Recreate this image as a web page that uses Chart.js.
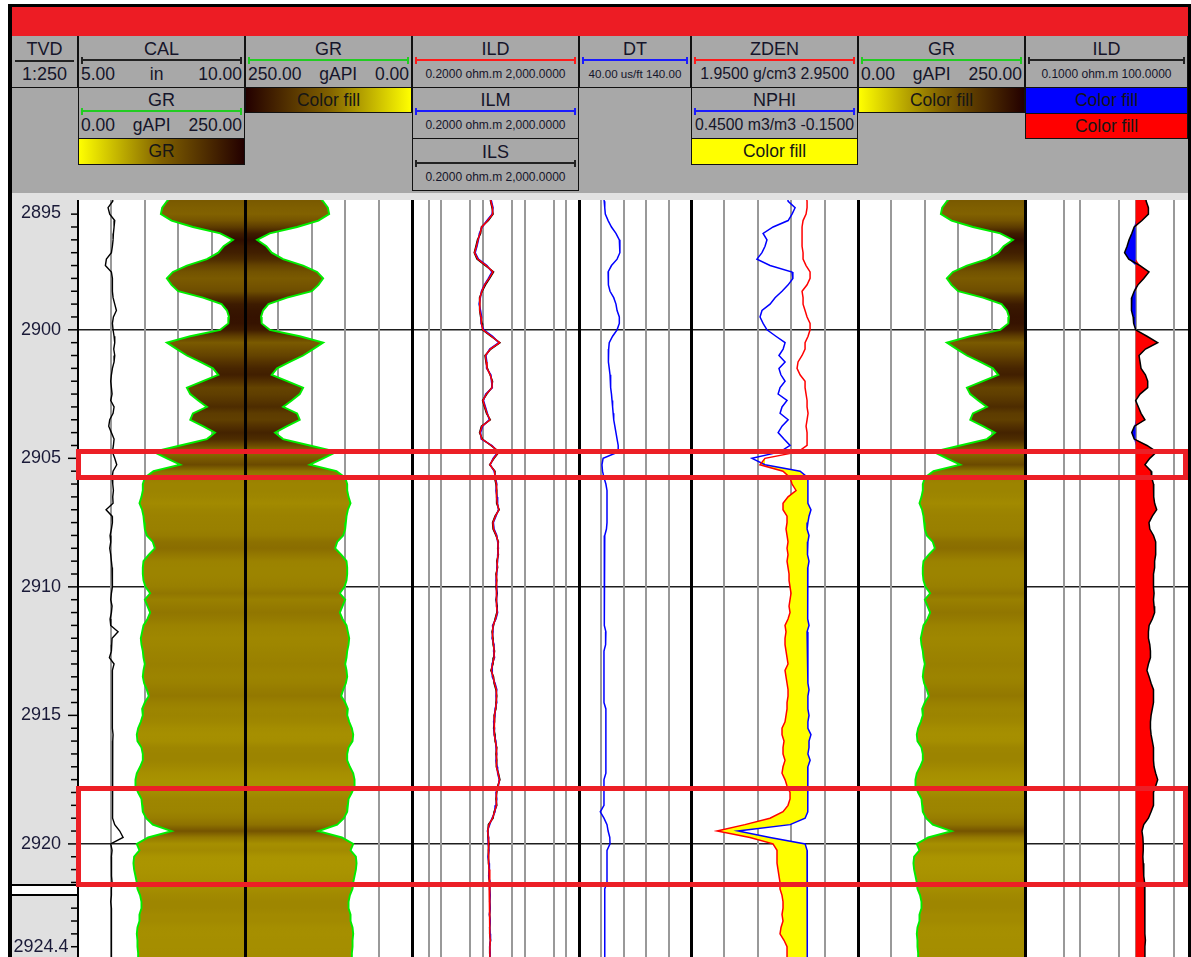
<!DOCTYPE html>
<html>
<head>
<meta charset="utf-8">
<title>Well log – TVD 2895–2924.4</title>
<script src="https://cdn.jsdelivr.net/npm/chart.js@4.4.1/dist/chart.umd.min.js"></script>
<style>
  html, body { margin: 0; padding: 0; background: #fff; }
  #page { position: relative; width: 1191px; height: 957px; overflow: hidden;
          font-family: "Liberation Sans", Arial, sans-serif; color: #15152a; }
  .abs { position: absolute; box-sizing: border-box; }
  .cell { border-left: 1px solid #111; border-right: 1px solid #111; border-bottom: 1px solid #111; }
  .title { position: absolute; left: 0; right: 0; height: 20px; line-height: 20px; text-align: center; font-size: 18px; white-space: nowrap; }
  .bar { position: absolute; left: 2px; right: 2px; height: 7px; box-sizing: border-box; }
  .bar > i { position: absolute; left: 0; right: 0; top: 2px; height: 2px; }
  .vals { position: absolute; left: 0; right: 0; height: 20px; line-height: 20px; display: flex;
          justify-content: space-between; padding: 0 2px; font-size: 17.5px; white-space: nowrap; }
  .vals.center { justify-content: center; }
  .fillbar { border: 1px solid #111; text-align: center; font-size: 17.5px; color: #161616; white-space: nowrap; }
</style>
</head>
<body>
<div id="page"></div>
<script>
// ---------------------------------------------------------------------------
// Log samples (0.25 m step)
// ---------------------------------------------------------------------------
const DEPTH = [
  2894.75,2895,2895.25,2895.5,2895.75,2896,2896.25,2896.5,2896.75,2897,
  2897.25,2897.5,2897.75,2898,2898.25,2898.5,2898.75,2899,2899.25,2899.5,
  2899.75,2900,2900.25,2900.5,2900.75,2901,2901.25,2901.5,2901.75,2902,
  2902.25,2902.5,2902.75,2903,2903.25,2903.5,2903.75,2904,2904.25,2904.5,
  2904.75,2905,2905.25,2905.5,2905.75,2906,2906.25,2906.5,2906.75,2907,
  2907.25,2907.5,2907.75,2908,2908.25,2908.5,2908.75,2909,2909.25,2909.5,
  2909.75,2910,2910.25,2910.5,2910.75,2911,2911.25,2911.5,2911.75,2912,
  2912.25,2912.5,2912.75,2913,2913.25,2913.5,2913.75,2914,2914.25,2914.5,
  2914.75,2915,2915.25,2915.5,2915.75,2916,2916.25,2916.5,2916.75,2917,
  2917.25,2917.5,2917.75,2918,2918.25,2918.5,2918.75,2919,2919.25,2919.5,
  2919.75,2920,2920.25,2920.5,2920.75,2921,2921.25,2921.5,2921.75,2922,
  2922.25,2922.5,2922.75,2923,2923.25,2923.5,2923.75,2924,2924.25,2924.5
];

// Gamma ray, gAPI
const GR = [
  142,133,126,124,140,172,213,232,218,210,
  193,163,142,133,140,150,187,215,223,226,
  225,213,168,133,148,163,183,202,210,187,
  163,168,180,193,172,168,187,205,193,153,
  113,133,153,113,100,97,97,95,92,96,
  98,99,100,103,112,115,106,98,97,97,
  98,101,108,100,104,108,104,98,96,94,
  95,97,98,100,98,97,99,103,106,100,
  96,97,94,90,88,89,95,97,97,93,
  88,86,86,90,95,96,97,102,112,140,
  105,88,92,84,83,84,86,88,89,93,
  95,95,92,92,89,88,89,89,90,90
];

// Caliper, in
const CAL = [
  6.05,6.04,5.9,5.95,6.1,6.08,6.06,6.05,6.03,6.0,
  5.85,5.82,6.0,6.03,6.02,6.04,6.05,6.1,6.15,6.06,
  6.03,6.05,6.08,6.1,6.07,6.1,6.08,6.03,6.0,5.98,
  6.0,6.02,5.98,6.08,6.05,5.95,5.92,6.0,6.08,6.06,
  6.03,6.1,6.16,6.05,6.02,6.04,6.06,6.04,6.05,5.84,
  6.02,6.03,6.0,5.96,5.98,5.95,5.98,6.0,6.02,6.03,
  6.02,6.04,6.0,5.98,6.02,6.0,5.96,5.98,6.2,6.02,
  6.01,6.0,5.94,6.08,6.03,6.02,6.03,6.04,6.03,6.02,
  6.04,6.03,6.02,6.03,6.05,6.04,6.03,6.04,6.03,6.04,
  6.03,6.04,6.04,6.03,6.04,6.03,6.04,6.03,6.1,6.25,
  6.35,5.98,6.02,6.0,6.0,6.01,6.0,6.02,6.0,6.0,
  5.98,6.0,6.0,6.0,6.0,6.01,6.0,6.0,6.0,6.0
];

// Deep induction, ohm.m
const ILD = [
  15,15.5,17,17,13,9.4,8.5,7.6,7.0,6.3,
  7.5,12,17.4,14,11,9.4,8.5,8.3,8.5,9,
  9.2,10,16,25,15,11.5,12,12.5,15,16.5,
  16.5,12,10,11.2,12.5,14.7,9.5,8.5,9.4,16,
  24,18,14.7,19,19.5,21,21,21.4,22,24,
  20,17.4,18,21,23,23,23,22,22,21,
  21,21,21.5,21,21.5,22,20,17.5,17,17,
  18,18.5,18.5,17,16,17.5,19,21,21,21,
  20,19,18.5,18.5,19,20,21,21,21,21.5,
  23,25,23,21,21,21,19,17,14,13,
  13.5,13.7,13.7,13.5,13.7,14,14,14.5,14.7,14.7,
  14.7,14.7,14.5,14.7,14.7,14.7,15,14.7,14.7,14.7
];

// Medium induction, ohm.m
const ILM = [
  15.2,16,17.5,16.5,12.5,9.6,8.2,7.8,7.2,6.5,
  7.8,12.5,16.5,13.5,10.8,9.2,8.7,8.1,8.8,9.3,
  9.0,10.5,17,24,14.5,11.8,12.4,12.2,15.5,16,
  16.8,11.6,10.3,11.5,12.8,14.2,9.8,8.8,9.1,16.5,
  23,17.5,15,18.5,20,21.5,20.5,21.8,22.5,23.5,
  20.5,17.8,18.5,21.5,22.5,23.5,22.5,22.5,21.5,21.5,
  20.5,21.5,21,21.5,21,22.5,20.5,17,17.5,16.5,
  18.5,18,19,16.5,16.5,17,19.5,21.5,20.5,21.5,
  19.5,19.5,18,19,18.5,20.5,20.5,21.5,20.5,22,
  22.5,24.5,23.5,20.5,21.5,20.5,19.5,16.5,14.5,12.8,
  13.8,13.3,14,13.2,14,14.3,13.7,14.8,14.4,15,
  14.5,14.9,14.3,15,14.5,14.9,15.2,14.5,15,14.5
];

// Shallow induction, ohm.m
const ILS = [
  14.8,15.2,16.5,17.5,13.5,9.2,8.8,7.4,6.8,6.2,
  7.2,11.5,18,14.5,11.5,9.6,8.3,8.5,8.2,8.8,
  9.5,9.8,15.5,25.5,15.5,11.2,11.8,12.8,14.8,17,
  16.2,12.4,9.8,10.9,12.2,15,9.2,8.3,9.7,15.5,
  24.5,18.5,14.5,19.5,19,20.5,21.5,21,21.5,24.5,
  19.5,17,17.5,20.5,23.5,22.5,23.5,21.5,22.5,20.5,
  21.5,20.5,22,20.5,22,21.5,19.5,18,16.5,17.5,
  17.5,19,18,17.5,15.5,18,18.5,20.5,21.5,20.5,
  20.5,18.5,19,18,19.5,19.5,21.5,20.5,21.5,21,
  23.5,25.5,22.5,21.5,20.5,21.5,18.5,17.5,13.5,13.2,
  13.2,14,13.5,13.7,13.5,14.2,13.8,14.5,14.6,14.5,
  14.5,14.8,14.4,14.8,14.5,14.5,15.2,14.5,14.5,14.9
];

// Sonic, us/ft
const DT = [
  62,62.5,63,63.5,66,69,73,76,76.5,76.5,
  74,69,66,66,66.5,67.7,71,73,74,76,
  76,74,70,67,66.5,66,66.5,67,67.7,68,
  68.5,69,69.5,70,70.5,71,72,73,74,75,
  75,61.5,60.5,61,62.3,64,65,65,65,65,
  65,65,64.5,63,62.6,62.6,62.6,62.6,62.6,62.6,
  62.6,62.6,62.6,62.6,62.6,62.6,62.6,62.6,64,64,
  63.5,62.3,62.3,62.3,62.3,62.3,62.3,62.3,62.3,62.3,
  64,64,64,64,64,64,64,64,64,64,
  64,62.3,62.3,62.3,62.3,62.3,59,62.3,65,66,
  67.5,67.7,65,65,65,65,65,65,63,63,
  63,63,63,63,63,63,63,63,63,63
];

// Bulk density, g/cm3
const ZDEN = [
  2.639,2.645,2.645,2.639,2.621,2.615,2.615,2.615,2.615,2.621,
  2.621,2.639,2.663,2.663,2.645,2.615,2.621,2.621,2.633,2.645,
  2.663,2.663,2.651,2.633,2.633,2.615,2.591,2.585,2.603,2.633,
  2.633,2.639,2.645,2.645,2.651,2.645,2.639,2.645,2.645,2.645,
  2.591,2.393,2.363,2.501,2.543,2.555,2.579,2.531,2.501,2.501,
  2.525,2.525,2.519,2.525,2.531,2.525,2.531,2.525,2.531,2.537,
  2.537,2.543,2.549,2.543,2.537,2.543,2.531,2.513,2.519,2.513,
  2.513,2.519,2.525,2.531,2.513,2.519,2.525,2.531,2.531,2.525,
  2.525,2.519,2.513,2.495,2.495,2.507,2.501,2.501,2.513,2.501,
  2.495,2.513,2.525,2.543,2.543,2.531,2.501,2.423,2.273,2.106,
  2.303,2.441,2.465,2.465,2.465,2.471,2.477,2.483,2.483,2.495,
  2.501,2.501,2.495,2.501,2.489,2.483,2.507,2.525,2.525,2.525
];

// Neutron porosity, m3/m3
const NPHI = [
  0.105,0.101,0.076,0.087,0.101,0.155,0.191,0.177,0.184,0.195,
  0.213,0.166,0.087,0.084,0.101,0.123,0.148,0.166,0.195,0.202,
  0.191,0.177,0.145,0.112,0.119,0.134,0.112,0.134,0.127,0.112,
  0.130,0.137,0.105,0.123,0.130,0.101,0.123,0.137,0.116,0.094,
  0.130,0.231,0.184,0.058,0.030,0.030,0.030,0.030,0.030,0.019,
  0.026,0.030,0.033,0.026,0.030,0.033,0.030,0.026,0.030,0.030,
  0.030,0.033,0.030,0.033,0.030,0.030,0.030,0.026,0.033,0.030,
  0.030,0.030,0.030,0.030,0.030,0.030,0.030,0.026,0.030,0.030,
  0.030,0.026,0.030,0.030,0.019,0.026,0.026,0.030,0.022,0.030,
  0.030,0.030,0.030,0.030,0.030,0.030,0.033,0.040,0.094,0.281,
  0.166,0.040,0.033,0.033,0.033,0.033,0.033,0.033,0.033,0.033,
  0.030,0.033,0.033,0.033,0.033,0.033,0.033,0.030,0.030,0.030
];

// Depth axis
const DEPTH_TOP = 2894.95;
const DEPTH_BASE = 2924.4;
const DEPTH_LABELS = [2895, 2900, 2905, 2910, 2915, 2920, 2924.4];
const DEPTH_LINES = [2900, 2910, 2920];
const DEPTH_BREAK = [2921.6, 2921.99];
const ZONES = [[2904.75, 2905.75], [2917.85, 2921.58]];

// Grid lines of each track, in the units of its scale
const CAL_GRID = [6, 7, 8, 9];
const GR_GRID = [50, 100, 150, 200];
const RES_GRID = [0.5, 1, 5, 10, 50, 100, 500, 1000];
const DT_GRID = [60, 80, 100, 120];
const ZDEN_GRID = [2.15, 2.35, 2.55, 2.75];
const ILD2_GRID = [0.5, 1, 5, 10, 50];
const ILD_CUTOFF = 10;

// GR colour map: yellow (clean) -> olive -> dark brown (shale)
const GR_COLOUR_STOPS = [[0, [255, 255, 0]], [125, [128, 96, 0]], [250, [35, 0, 0]]];

// ---------------------------------------------------------------------------
// Page layout
// ---------------------------------------------------------------------------
const PLOT_TOP = 200, PLOT_BOTTOM = 957;
const page = document.getElementById('page');

function box(x, y, w, h, css) {
  const d = document.createElement('div');
  d.className = 'abs';
  d.style.cssText = `left:${x}px;top:${y}px;width:${w}px;height:${h}px;` + (css || '');
  page.appendChild(d);
  return d;
}

const grCss = (dir) => 'linear-gradient(to ' + dir + ',' +
  GR_COLOUR_STOPS.map(s => `rgb(${s[1].join(',')})`).join(',') + ')';

// header background
box(12, 7, 1176, 29, 'background:#ed1c24');
box(12, 36, 1176, 157, 'background:#a8a8a8');
box(12, 193, 1176, 7, 'background:#e2e2e2');

function curveHeader(x, y, w, h, o) {
  const c = box(x, y, w, h);
  c.classList.add('cell');
  const ty = o.ty === undefined ? 3 : o.ty;
  let vals;
  if (o.center) {
    vals = `<div class="vals center" style="top:${ty + 25}px;font-size:${o.size}px;font-family:${o.font || 'inherit'}">${o.lo} ${o.unit} ${o.hi}</div>`;
  } else {
    vals = `<div class="vals" style="top:${ty + 25}px"><span>${o.lo}</span><span>${o.unit}</span><span>${o.hi}</span></div>`;
  }
  c.innerHTML =
    `<div class="title" style="top:${ty}px">${o.title}</div>` +
    `<div class="bar" style="top:${ty + 18}px;border-left:2px solid ${o.color};border-right:2px solid ${o.color}"><i style="background:${o.color}"></i></div>` +
    vals;
  return c;
}
function fillBar(x, y, w, h, bg, text) {
  const b = box(x, y, w, h, `background:${bg};line-height:${h - 2}px`);
  b.classList.add('fillbar');
  b.textContent = text;
  return b;
}

const SMALL = '"DejaVu Sans", sans-serif';
// TVD header
const tvd = box(12, 36, 66, 52, 'border-right:1px solid #111;border-bottom:1px solid #111');
tvd.innerHTML = '<div class="title" style="top:3px">TVD</div>' +
  '<div style="position:absolute;left:3px;right:3px;top:24px;height:2px;background:#222"></div>' +
  '<div class="title" style="top:28px">1:250</div>';
// track 1
curveHeader(78, 36, 167, 52, { title: 'CAL', color: '#222', lo: '5.00', unit: 'in', hi: '10.00' });
curveHeader(78, 88, 167, 51, { title: 'GR', color: '#22cc22', lo: '0.00', unit: 'gAPI', hi: '250.00', ty: 2 });
fillBar(78, 138, 167, 27, grCss('right'), 'GR');
// track 2
curveHeader(245, 36, 167, 52, { title: 'GR', color: '#22cc22', lo: '250.00', unit: 'gAPI', hi: '0.00' });
fillBar(245, 87, 167, 26, grCss('left'), 'Color fill');
// track 3
curveHeader(412, 36, 167, 52, { title: 'ILD', color: '#ff1a1a', lo: '0.2000', unit: 'ohm.m', hi: '2,000.0000', center: true, size: 12, font: SMALL });
curveHeader(412, 88, 167, 51, { title: 'ILM', color: '#1a1aff', lo: '0.2000', unit: 'ohm.m', hi: '2,000.0000', center: true, size: 12, font: SMALL, ty: 2 });
curveHeader(412, 139, 167, 52, { title: 'ILS', color: '#222', lo: '0.2000', unit: 'ohm.m', hi: '2,000.0000', center: true, size: 12, font: SMALL, ty: 3 });
// track 4
curveHeader(579, 36, 112, 52, { title: 'DT', color: '#1a1aff', lo: '40.00', unit: 'us/ft', hi: '140.00', center: true, size: 11.6, font: SMALL });
// track 5
curveHeader(691, 36, 167, 52, { title: 'ZDEN', color: '#ff1a1a', lo: '1.9500', unit: 'g/cm3', hi: '2.9500', center: true, size: 15.8 });
curveHeader(691, 88, 167, 51, { title: 'NPHI', color: '#1a1aff', lo: '0.4500', unit: 'm3/m3', hi: '-0.1500', center: true, size: 15.8, ty: 2 });
fillBar(691, 138, 167, 27, '#ffff00', 'Color fill');
// track 6
curveHeader(858, 36, 167, 52, { title: 'GR', color: '#22cc22', lo: '0.00', unit: 'gAPI', hi: '250.00' });
fillBar(858, 87, 167, 26, grCss('right'), 'Color fill');
// track 7
curveHeader(1025, 36, 163, 52, { title: 'ILD', color: '#222', lo: '0.1000', unit: 'ohm.m', hi: '100.0000', center: true, size: 12, font: SMALL });
fillBar(1025, 87, 163, 27, '#0000ff', 'Color fill');
fillBar(1025, 113, 163, 26, '#ff0000', 'Color fill');

// ---------------------------------------------------------------------------
// Chart helpers
// ---------------------------------------------------------------------------
function grColour(v) {
  const s = GR_COLOUR_STOPS;
  let k = 1;
  while (k < s.length - 1 && v > s[k][0]) k++;
  const t = Math.min(1, Math.max(0, (v - s[k - 1][0]) / (s[k][0] - s[k - 1][0])));
  const c = s[k - 1][1].map((c0, j) => Math.round(c0 + (s[k][1][j] - c0) * t));
  return `rgb(${c[0]},${c[1]},${c[2]})`;
}
// vertical gradient whose colour at each depth follows the GR value there
function grGradient(context) {
  const chart = context.chart;
  const a = chart.chartArea;
  if (!a) return 'rgba(0,0,0,0)';
  const y = chart.scales.y;
  const g = chart.ctx.createLinearGradient(0, a.top, 0, a.bottom);
  DEPTH.forEach((d, i) => {
    const p = (y.getPixelForValue(d) - a.top) / (a.bottom - a.top);
    if (p >= 0 && p <= 1) g.addColorStop(p, grColour(GR[i]));
  });
  return g;
}

const pts = (vals) => DEPTH.map((d, i) => ({ x: vals[i], y: d }));

function depthAxis() {
  return {
    type: 'linear', reverse: true, min: DEPTH_TOP, max: DEPTH_BASE,
    afterBuildTicks: s => { s.ticks = DEPTH_LINES.map(v => ({ value: v })); },
    ticks: { display: false }, border: { display: false },
    grid: { drawTicks: false, color: '#1e1e1e', lineWidth: 1.6 }
  };
}
function valueAxis(type, min, max, lines, reverse) {
  return {
    type, min, max, reverse: !!reverse, position: 'top',
    afterBuildTicks: s => { s.ticks = lines.map(v => ({ value: v })); },
    ticks: { display: false }, border: { display: false },
    grid: { drawTicks: false, color: '#999999', lineWidth: 2 }
  };
}
function hiddenAxis(type, min, max, reverse) {
  return { type, min, max, reverse: !!reverse, display: false };
}
function options(scales) {
  return {
    responsive: false, animation: false, indexAxis: 'y', events: [], devicePixelRatio: 1,
    layout: { padding: 0, autoPadding: false },
    plugins: { legend: { display: false }, tooltip: { enabled: false } },
    elements: { point: { radius: 0 }, line: { tension: 0 } },
    scales: Object.assign({ y: depthAxis() }, scales)
  };
}
function curve(data, color, width, axis, extra) {
  return Object.assign({ data, borderColor: color, borderWidth: width, xAxisID: axis || 'x', fill: false }, extra || {});
}
function track(left, right, config) {
  const w = right - left, h = PLOT_BOTTOM - PLOT_TOP;
  const holder = box(left, PLOT_TOP, w, h);
  const cv = document.createElement('canvas');
  cv.width = w; cv.height = h;
  cv.style.width = w + 'px'; cv.style.height = h + 'px';
  holder.appendChild(cv);
  return new Chart(cv, config);
}

// ---------------------------------------------------------------------------
// Depth track
// ---------------------------------------------------------------------------
const depthTrack = {
  id: 'depthTrack',
  beforeDraw(chart) {
    const { ctx, chartArea: a } = chart;
    ctx.save();
    ctx.fillStyle = '#e0e0e0';
    ctx.fillRect(a.left, a.top, a.width, a.height);
    ctx.restore();
  },
  afterDraw(chart) {
    const { ctx, chartArea: a, scales: { y } } = chart;
    const b1 = y.getPixelForValue(DEPTH_BREAK[0]), b2 = y.getPixelForValue(DEPTH_BREAK[1]);
    ctx.save();
    ctx.strokeStyle = '#000';
    ctx.lineWidth = 1.5;
    for (let d = Math.ceil(DEPTH_TOP * 2) / 2; d <= DEPTH_BASE; d += 0.5) {
      const py = y.getPixelForValue(d);
      if (py < a.top + 3 || py > a.bottom - 3 || (py > b1 - 2 && py < b2 + 2)) continue;
      const len = d % 5 === 0 ? 10 : 7;
      ctx.beginPath(); ctx.moveTo(a.right - len, py); ctx.lineTo(a.right, py); ctx.stroke();
    }
    // section break
    ctx.fillStyle = '#ffffff';
    ctx.fillRect(a.left, b1, a.width, b2 - b1);
    ctx.lineWidth = 2;
    ctx.beginPath();
    ctx.moveTo(a.left, b1); ctx.lineTo(a.right, b1);
    ctx.moveTo(a.left, b2); ctx.lineTo(a.right, b2);
    ctx.stroke();
    // labels
    ctx.font = '18px "Liberation Sans", Arial, sans-serif';
    ctx.fillStyle = '#1a1a38';
    ctx.textAlign = 'center';
    ctx.textBaseline = 'middle';
    DEPTH_LABELS.forEach(d => {
      const py = Math.min(Math.max(y.getPixelForValue(d), a.top + 13), a.bottom - 10);
      ctx.fillText(String(d), 29, py);
    });
    ctx.restore();
  }
};
const depthOptions = options({ x: hiddenAxis('linear', 0, 1) });
depthOptions.scales.y.display = false;
const depthChart = track(12, 78, {
  type: 'line',
  data: { datasets: [] },
  options: depthOptions,
  plugins: [depthTrack]
});

// ---------------------------------------------------------------------------
// Curve tracks
// ---------------------------------------------------------------------------
const GR_LINE = '#00ee00';

// Track 1: CAL + GR (fill to the right edge)
track(78, 245, {
  type: 'line',
  data: { datasets: [
    curve(pts(CAL), '#000000', 1.4, 'x'),
    curve(pts(GR), GR_LINE, 1.9, 'x2', { fill: { value: 250 }, backgroundColor: grGradient })
  ] },
  options: options({ x: valueAxis('linear', 5, 10, CAL_GRID), x2: hiddenAxis('linear', 0, 250) })
});

// Track 2: GR on a reversed scale (fill from the left edge)
track(245, 412, {
  type: 'line',
  data: { datasets: [
    curve(pts(GR), GR_LINE, 1.9, 'x', { fill: { value: 250 }, backgroundColor: grGradient })
  ] },
  options: options({ x: valueAxis('linear', 0, 250, GR_GRID, true) })
});

// Track 3: resistivities on a log scale
track(412, 579, {
  type: 'line',
  data: { datasets: [
    curve(pts(ILD), '#ff0000', 1.5),
    curve(pts(ILM), '#0000ff', 1.5),
    curve(pts(ILS), '#000000', 1.5)
  ] },
  options: options({ x: valueAxis('logarithmic', 0.2, 2000, RES_GRID) })
});

// Track 4: sonic
track(579, 691, {
  type: 'line',
  data: { datasets: [curve(pts(DT), '#0000ff', 1.5)] },
  options: options({ x: valueAxis('linear', 40, 140, DT_GRID) })
});

// Track 5: density / neutron with crossover shading
const crossoverFill = {
  id: 'crossoverFill',
  beforeDatasetsDraw(chart) {
    const den = chart.getDatasetMeta(0).data, neu = chart.getDatasetMeta(1).data;
    const { ctx, chartArea: a } = chart;
    ctx.save();
    ctx.beginPath(); ctx.rect(a.left, a.top, a.width, a.height); ctx.clip();
    ctx.beginPath();
    den.forEach((p, i) => (i ? ctx.lineTo(p.x, p.y) : ctx.moveTo(p.x, p.y)));
    for (let i = neu.length - 1; i >= 0; i--) ctx.lineTo(Math.max(den[i].x, neu[i].x), neu[i].y);
    ctx.closePath();
    ctx.fillStyle = '#ffff00';
    ctx.fill();
    ctx.restore();
  }
};
track(691, 858, {
  type: 'line',
  data: { datasets: [
    curve(pts(ZDEN), '#ff0000', 1.5, 'x'),
    curve(pts(NPHI), '#0000ff', 1.5, 'x2')
  ] },
  options: options({ x: valueAxis('linear', 1.95, 2.95, ZDEN_GRID), x2: hiddenAxis('linear', -0.15, 0.45, true) }),
  plugins: [crossoverFill]
});

// Track 6: GR (fill to the right edge)
track(858, 1025, {
  type: 'line',
  data: { datasets: [
    curve(pts(GR), GR_LINE, 1.9, 'x', { fill: { value: 250 }, backgroundColor: grGradient })
  ] },
  options: options({ x: valueAxis('linear', 0, 250, GR_GRID) })
});

// Track 7: ILD against a 10 ohm.m cutoff, red above, blue below
track(1025, 1191, {
  type: 'line',
  data: { datasets: [
    curve(pts(ILD), '#000000', 1.5),
    curve(pts(ILD.map(v => Math.max(v, ILD_CUTOFF))), 'rgba(0,0,0,0)', 0, 'x', { fill: { value: ILD_CUTOFF }, backgroundColor: '#ff0000' }),
    curve(pts(ILD.map(v => Math.min(v, ILD_CUTOFF))), 'rgba(0,0,0,0)', 0, 'x', { fill: { value: ILD_CUTOFF }, backgroundColor: '#0000ff' })
  ] },
  options: options({ x: valueAxis('logarithmic', 0.1, 100, ILD2_GRID) })
});

// ---------------------------------------------------------------------------
// Track borders, frame and highlighted intervals
// ---------------------------------------------------------------------------
const plotH = PLOT_BOTTOM - PLOT_TOP;
box(77, PLOT_TOP, 2, plotH, 'background:#000');
[245, 412, 579, 691, 858, 1025].forEach(x => box(x - 1.5, PLOT_TOP, 3, plotH, 'background:#000'));

box(8, 4, 1183, 3, 'background:#000');
box(8, 4, 4, 953, 'background:#000');
box(1188, 4, 3, 953, 'background:#000');

const yDepth = depthChart.scales.y;
ZONES.forEach(([d1, d2]) => {
  const y1 = PLOT_TOP + yDepth.getPixelForValue(d1);
  const y2 = PLOT_TOP + yDepth.getPixelForValue(d2);
  box(76, y1 - 2.5, 1112, y2 - y1 + 5, 'border:5px solid #ec1f26');
});
</script>
</body>
</html>
